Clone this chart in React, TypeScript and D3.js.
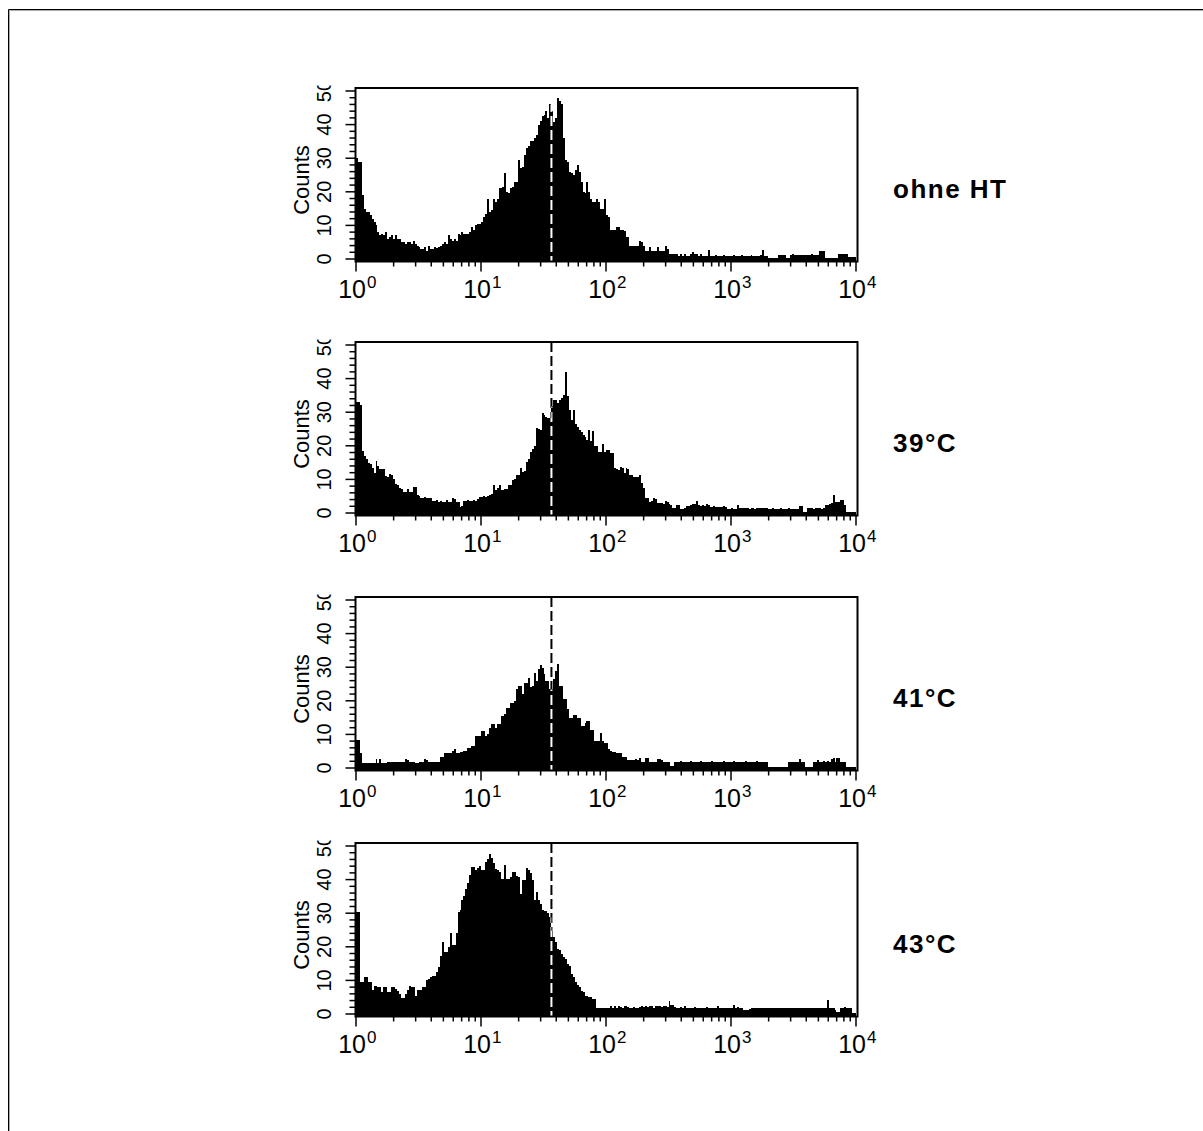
import React from 'react';
import * as d3 from 'd3';

const panelLabels = ['ohne HT', '39°C', '41°C', '43°C'];

const countsOhneHT = [
  30, 29, 29, 19, 15, 14, 14, 13, 12, 11, 10, 8, 7, 7.5, 7, 8,
  6, 6.5, 7, 6, 7, 6, 6, 5, 5, 4.5, 5, 5, 4.5, 5.5, 4.5, 4,
  3.5, 3, 3, 3.5, 2.5, 4, 3, 3, 3.5, 3.3, 3.5, 4, 4.5, 5, 4.5, 7,
  6, 5.5, 6, 5.5, 7.5, 7, 8, 7.5, 7.5, 7.5, 8, 9.5, 8.5, 10, 10.5, 10.5,
  11, 12.5, 13.5, 18, 14, 14.5, 18, 17, 18, 21, 21, 21.5, 25.5, 20, 19.5, 21,
  21.5, 23, 23, 29.5, 27, 27.5, 31, 33, 33.5, 35, 35, 36, 37, 40, 41, 42.7,
  43, 44, 42, 46, 44, 40.7, 42, 48, 47, 46, 36, 29.5, 29, 26, 25.5, 25,
  26.5, 28, 26, 23, 20, 19.5, 22.8, 20, 18, 17, 17, 18, 17, 15, 15, 18,
  13, 12.5, 8.5, 8.5, 8.5, 9.5, 9.5, 8.5, 8.5, 8.4, 6.4, 6.4, 4, 4, 4, 4,
  4, 5.5, 5, 4, 2.5, 2.5, 3.5, 2.5, 2.5, 2.5, 3.5, 2.5, 2.5, 2.5, 4, 3,
  1.5, 1.5, 1.5, 1.5, 1.5, 1, 1.5, 1, 1.5, 1, 1, 1.5, 2, 1.5, 1.5, 1,
  1.5, 1, 1, 1, 2.7, 1, 1, 1, 1.3, 1, 1, 1, 1.3, 1, 1, 1,
  1, 1.3, 1, 1, 1, 1.3, 1, 1, 1, 1, 1.3, 1, 1, 1, 1, 1.3,
  2.7, 1, 1, 0.3, 0.3, 0.3, 0.3, 0.3, 1.3, 1.3, 1.3, 1.3, 0.3, 0.3, 1.3, 1.5,
  1.3, 1.3, 1.3, 1.3, 1.3, 1.3, 1.3, 1.3, 1.3, 1.5, 1.3, 1.3, 1.3, 2.5, 2.5, 2.5,
  0.3, 0.3, 0.3, 0.3, 0.3, 0.3, 0.3, 1.5, 1.5, 1.5, 1.5, 1.5, 0.5, 0.5, 0.5, 0.5,
];

const counts39 = [
  33, 33, 32, 18.5, 17, 16, 15, 14.5, 13.3, 12, 15.5, 14, 13, 13, 13, 11,
  10.6, 11.5, 11.4, 10, 8.5, 8.4, 7.5, 7, 6.2, 6.3, 7.2, 6.2, 6.2, 7.6, 7.6, 5.4,
  5.2, 4.6, 4.6, 4.8, 4.4, 4.6, 4.6, 3.6, 3.6, 3.8, 3.4, 3.6, 3.2, 3.2, 4, 3.4,
  3.2, 4.4, 4.2, 3.2, 3.2, 1.9, 2, 3.6, 3.6, 3.8, 3.6, 3.6, 3.8, 3.6, 4.2, 4.9,
  4.9, 5, 4.9, 5, 5.4, 5.6, 8.4, 6.9, 7.5, 8.2, 6.9, 6.9, 7.2, 7.2, 8.4, 8.4,
  9.9, 10, 11.4, 11.4, 13.3, 12.3, 12.5, 15.3, 16, 18.3, 19, 19.8, 25.4, 25, 24.8, 29.7,
  29.2, 28.5, 28.2, 28.2, 31.7, 33.5, 33.7, 32.7, 33.5, 34.2, 35.2, 42, 34.7, 30.7, 27.7, 30.7,
  26.5, 25.7, 24.8, 24, 23.3, 22.5, 21.8, 24.8, 21.4, 24.3, 20, 19.8, 18.3, 18.3, 20.5, 18.3,
  18.7, 18.8, 18, 17.8, 13.3, 13.2, 12.8, 13.8, 13.5, 11.8, 13.3, 13, 11.3, 11.3, 10.8, 10.8,
  10.8, 11.3, 9, 7.4, 4.6, 4.6, 3.4, 3.6, 4.4, 4.2, 2.9, 2.9, 3, 2.8, 3.6, 3.4,
  2.6, 2.4, 1.4, 1.4, 2.4, 2.4, 1.2, 1.2, 1.4, 2.2, 2.2, 2.4, 2.6, 2.6, 3.6, 2.4,
  2.2, 2.4, 2.2, 2.6, 2.4, 1.9, 1.9, 2, 1.9, 1.9, 1.9, 1.8, 2, 1.9, 1.2, 1.2,
  1.4, 1.2, 1.3, 2.4, 1.4, 1.4, 1.5, 1.4, 1.4, 1.2, 1.4, 1.4, 1.2, 1.4, 1.4, 1.4,
  1.6, 1.4, 1.4, 1.2, 1.2, 1.4, 1.2, 1.2, 1.2, 1.4, 1.2, 1.2, 1.2, 1.4, 1.2, 1.2,
  1.2, 1.2, 1.2, 2.2, 2.2, 0.4, 0.4, 1.4, 1.4, 1.4, 1.2, 1.4, 1.4, 1.4, 1.2, 1.4,
  2.4, 2.4, 2.6, 3, 5.4, 3.4, 3.4, 3.4, 3.9, 3.9, 2.4, 0.4, 0.4, 0.4, 0.4, 0.4,
];

const counts41 = [
  8.4, 8.4, 4.6, 1.4, 1.4, 1.4, 1.4, 1.4, 1.4, 1.4, 2.6, 1.4, 2.6, 1.4, 1.4, 1.4,
  1.9, 1.9, 1.9, 1.9, 1.9, 1.9, 1.9, 1.9, 1.9, 2.6, 2.4, 1.9, 1.9, 1.9, 1.4, 1.4,
  1.9, 1.9, 1.9, 2.6, 2.4, 1.9, 1.9, 1.9, 1.9, 1.9, 1.9, 3.2, 3.2, 4.6, 4.4, 4.6,
  4.6, 5.2, 5.6, 4.6, 4.6, 4.9, 4.9, 5, 5.2, 5.9, 5.9, 6.4, 6.4, 9.4, 9.6, 9.6,
  10.9, 10.9, 9.4, 10, 11.9, 13.2, 13.2, 11.9, 13.2, 13.2, 15.4, 15.4, 16, 17.9, 17.9, 19.2,
  19.2, 19.9, 23.4, 24.4, 24.4, 22, 25.4, 25.4, 26.9, 24, 24.5, 28.4, 25.9, 29.4, 30.6, 29.8,
  27.9, 25.9, 25.9, 23.4, 23.4, 26.4, 28.9, 30.9, 24.4, 24.4, 20.4, 20.4, 17.6, 14.9, 14.9, 15.9,
  15.9, 14.9, 14.9, 12.6, 12.6, 13.4, 13.9, 13.9, 11.4, 11.4, 7.9, 7.9, 8, 10.4, 8, 7.4,
  7.4, 5.6, 5, 4.9, 4.9, 4.6, 4.6, 4.6, 3.4, 3.4, 3.4, 2.4, 2.4, 2.4, 2.4, 2.6,
  2.4, 2.9, 1.9, 1.9, 2.9, 2.9, 1.9, 1.9, 1.9, 1.9, 2.6, 2.6, 2.4, 1.9, 1.9, 1.9,
  1.9, 0.6, 0.6, 1.9, 1.9, 1.9, 2, 1.9, 1.9, 1.9, 1.9, 2, 1.9, 1.9, 1.9, 1.9,
  2, 1.9, 1.9, 1.9, 1.9, 1.9, 2, 1.9, 1.9, 1.9, 1.9, 1.9, 2, 1.9, 1.9, 1.9,
  1.9, 2, 1.9, 1.9, 1.9, 1.9, 1.9, 2, 1.9, 1.9, 1.9, 1.9, 1.9, 2, 1.9, 1.9,
  1.9, 1.9, 1.9, 0.4, 0.4, 0.4, 0.4, 0.4, 0.4, 0.4, 0.4, 0.4, 0.4, 1.9, 1.9, 1.9,
  1.9, 1.9, 1.9, 2.6, 1.9, 1.9, 0.4, 0.4, 0.4, 0.4, 1.9, 1.9, 2.4, 1.9, 1.9, 2.2,
  1.9, 2.2, 1.9, 2.6, 2.9, 1.9, 2.9, 2.9, 1.9, 1.9, 1.9, 0.4, 0.4, 0.4, 0.4, 0.4,
];

const counts43 = [
  30.3, 30.3, 9.4, 9.4, 10.9, 10.9, 9.4, 9.4, 7.1, 8.4, 8.4, 7.9, 7.9, 6.4, 7.9, 7.9,
  6.4, 6.4, 7.9, 7.9, 7.5, 6.9, 6, 4.9, 4.9, 5.9, 7, 8.4, 8, 7.9, 5.4, 7.1,
  7.1, 7.1, 7.9, 7.9, 10, 10.4, 11, 11.4, 11.4, 12.4, 14, 17.4, 21.4, 18.4, 18.4, 20,
  24, 20.4, 20.4, 24, 30.3, 31, 33.8, 35, 37.3, 39, 41.3, 43.8, 43.8, 42.8, 43.5, 44,
  42.8, 43, 45.3, 46, 47.6, 46.3, 45, 43.3, 42.8, 42.3, 40.3, 40.3, 44.3, 40.3, 40.3, 40.8,
  42.3, 42.3, 41, 40.8, 35.8, 39.8, 39.8, 43.6, 43, 42, 40, 33.8, 36.3, 34, 32.8, 31,
  30.8, 30.8, 30, 28.8, 24.8, 23, 21.4, 19.4, 19, 17.9, 17, 16.4, 15, 14.4, 11.9, 11,
  9.4, 8.5, 7.9, 6.8, 6.4, 5.4, 5.4, 5.2, 5, 4.4, 4.4, 1.9, 1.9, 1.9, 1.9, 1.9,
  1.9, 1.9, 2.4, 1.9, 2.4, 1.9, 2.4, 2.2, 1.9, 2.4, 2.4, 2.1, 1.9, 1.9, 2.1, 1.9,
  1.9, 2, 2.4, 2.2, 2.4, 2.1, 2.4, 2.4, 1.9, 2.4, 2.4, 2.4, 2.2, 2.4, 2.4, 2.2,
  3.9, 2.8, 2.6, 2.2, 1.9, 1.9, 2.2, 1.9, 2.4, 1.9, 1.9, 1.9, 1.9, 2.2, 1.9, 1.9,
  1.9, 1.9, 1.9, 2.2, 1.9, 1.9, 1.9, 1.9, 1.9, 2.4, 1.9, 1.9, 1.9, 1.9, 1.9, 1.9,
  1.9, 2.7, 1.9, 2.2, 1.9, 1.9, 1.1, 1.1, 1.1, 1.5, 1.9, 1.9, 1.9, 1.9, 1.9, 1.9,
  1.9, 1.9, 1.9, 1.9, 1.9, 1.9, 1.9, 1.9, 1.9, 1.9, 1.9, 1.9, 1.9, 1.9, 1.9, 1.9,
  1.9, 1.9, 1.9, 1.9, 1.9, 1.9, 1.9, 1.9, 1.9, 1.9, 1.9, 1.9, 1.9, 1.9, 1.9, 1.9,
  1.9, 4.1, 1.9, 1.9, 1.9, 1.2, 0.7, 0.7, 1.9, 1.9, 2.1, 1.9, 1.9, 1.9, 0.4, 0.4,
];

const seriesList = [countsOhneHT, counts39, counts41, counts43];
const decadeExponents = [0, 1, 2, 3, 4];
const minorMultipliers = [2, 3, 4, 5, 6, 7, 8, 9];
const yTickMajors = [0, 10, 20, 30, 40, 50];
const markerValue = 36.6;
const showMarkerAbove = [false, true, true, true];

const W = 1203;
const H = 1131;
const X0 = 356;
const X1 = 856;
const panelTops = [88, 342, 597, 843];
const FONT = "'Liberation Sans', Arial, Helvetica, sans-serif";

function Panel({ counts, label, top, idx, showAbove }: any) {
  const y50 = top + 3;
  const y0 = y50 + 168;
  const axisY = y0 + 2.5;
  const x = d3.scaleLog().domain([1, 10000]).range([X0, X1]);
  const y = d3.scaleLinear().domain([0, 50]).range([y0, y50]);
  const n = counts.length;
  const pts = counts.map((v: number, i: number) => ({ e: (4 * i) / n, v }));
  pts.push({ e: 4, v: counts[n - 1] });
  const area = d3
    .area<any>()
    .x((d) => x(Math.pow(10, d.e)))
    .y0(axisY)
    .y1((d) => y(d.v))
    .curve(d3.curveStepAfter);
  const histPath = area(pts) || '';
  const mx = x(markerValue);

  const xTicks: { v: number; major: boolean }[] = [];
  decadeExponents.forEach((e) => {
    xTicks.push({ v: Math.pow(10, e), major: true });
    if (e < 4) minorMultipliers.forEach((m) => xTicks.push({ v: m * Math.pow(10, e), major: false }));
  });
  const yTicks = d3.range(0, 51, 2);

  return (
    <g>
      <defs>
        <clipPath id={`hist-clip-${idx}`}>
          <path d={histPath} />
        </clipPath>
        <clipPath id={`ylab-clip-${idx}`}>
          <rect x={250} y={top - 2.5} width={110} height={250} />
        </clipPath>
      </defs>
      <path d={histPath} fill="#000" shapeRendering="crispEdges" />
      {showAbove && (
        <line x1={mx} x2={mx} y1={top} y2={axisY} stroke="#000" strokeWidth={2} strokeDasharray="10 4" />
      )}
      <line
        x1={mx}
        x2={mx}
        y1={top}
        y2={axisY}
        stroke="#fff"
        strokeWidth={2}
        strokeDasharray="10 4"
        clipPath={`url(#hist-clip-${idx})`}
      />
      <rect x={X0 - 0.5} y={top} width={X1 - X0 + 2} height={axisY - top} fill="none" stroke="#000" strokeWidth={2} />
      {xTicks.map((t, i) => (
        <line
          key={`xt${i}`}
          x1={x(t.v)}
          x2={x(t.v)}
          y1={axisY}
          y2={axisY + (t.major ? 10 : 5)}
          stroke="#000"
          strokeWidth={1.5}
        />
      ))}
      {yTicks.map((v) => (
        <line
          key={`yt${v}`}
          x1={X0 - 0.5}
          x2={X0 - 0.5 - (v % 10 === 0 ? 10 : 6)}
          y1={y(v)}
          y2={y(v)}
          stroke="#000"
          strokeWidth={1.5}
        />
      ))}
      {decadeExponents.map((e) => {
        const tx = x(Math.pow(10, e));
        return (
          <g key={`xl${e}`} fontFamily={FONT} fill="#000">
            <text x={tx + 10} y={axisY + 36} fontSize={25} textAnchor="end">
              10
            </text>
            <text x={tx + 11} y={axisY + 26} fontSize={17} textAnchor="start">
              {e}
            </text>
          </g>
        );
      })}
      <g clipPath={`url(#ylab-clip-${idx})`}>
        {yTickMajors.map((v) => (
          <text
            key={`yl${v}`}
            transform={`translate(331,${y(v)}) rotate(-90)`}
            fontSize={20}
            fontFamily={FONT}
            textAnchor="middle"
            fill="#000"
          >
            {v}
          </text>
        ))}
      </g>
      <text
        transform={`translate(309,${y0 - 79}) rotate(-90)`}
        fontSize={22}
        fontFamily={FONT}
        textAnchor="middle"
        fill="#000"
      >
        Counts
      </text>
      <text x={893} y={top + 110} fontSize={26} fontWeight="bold" fontFamily={FONT} letterSpacing={1.5} fill="#000">
        {label}
      </text>
    </g>
  );
}

export default function App() {
  return (
    <svg
      width={W}
      height={H}
      style={{ position: 'absolute', left: 0, top: 0, background: '#fff' }}
    >
      <rect x={0} y={0} width={W} height={H} fill="#fff" />
      <path d={`M8.5,${H} V9.5 H${W}`} fill="none" stroke="#000" strokeWidth={1} />
      <path d={`M9.5,${H} V10.5 H${W}`} fill="none" stroke="#aaa" strokeWidth={1} />
      {seriesList.map((counts, i) => (
        <Panel
          key={i}
          idx={i}
          counts={counts}
          label={panelLabels[i]}
          top={panelTops[i]}
          showAbove={showMarkerAbove[i]}
        />
      ))}
    </svg>
  );
}
